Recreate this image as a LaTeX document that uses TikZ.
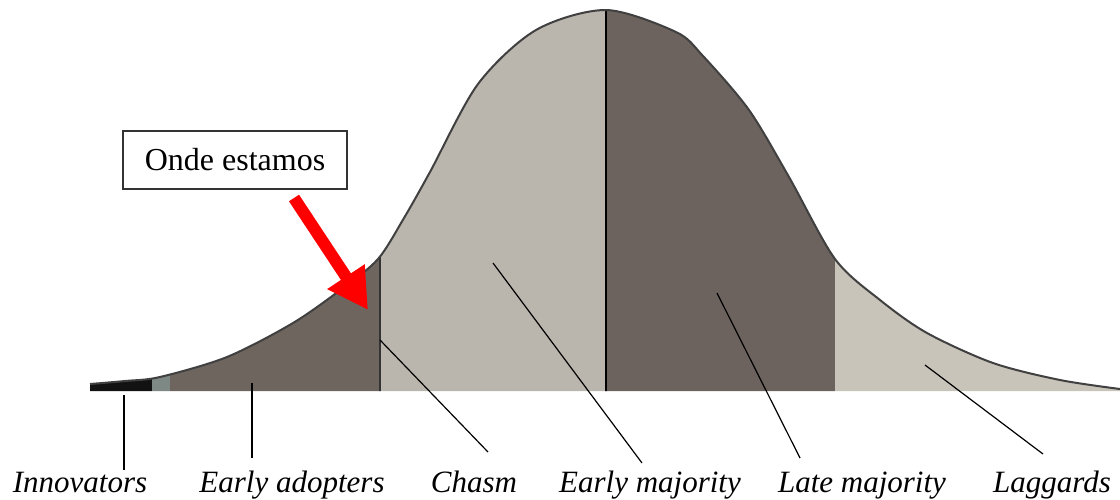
\documentclass[tikz,border=0pt]{standalone}
\usepackage{fontspec}
\setmainfont{Liberation Serif}
\newfontfamily\timesfont{Liberation Serif}
\usepackage{xcolor}
\usetikzlibrary{arrows.meta}
\definecolor{innovcol}{HTML}{121212}
\definecolor{edgecol}{HTML}{7E8884}
\definecolor{adoptcol}{HTML}{6E655F}
\definecolor{earlycol}{HTML}{BAB5AD}
\definecolor{latecol}{HTML}{6C625E}
\definecolor{laggcol}{HTML}{C9C4BA}
\tikzset{
  seglabel/.style={anchor=base, inner sep=0pt, font=\timesfont\fontsize{15.5}{18}\selectfont\itshape},
  leader/.style={draw=black, line width=0.6pt},
  outline/.style={draw=black!75, line width=1pt},
  notebox/.style={draw=black!80, line width=0.7pt, fill=white, inner sep=0pt,
    minimum width=112pt, minimum height=29pt, font=\timesfont\fontsize{16}{19}\selectfont},
  redarrow/.style={draw=red, line width=6pt, -{Triangle[length=20pt,width=21pt]}}
}

\begin{document}
\begin{tikzpicture}[x=0.5pt,y=-0.5pt]
\useasboundingbox (0,0) rectangle (1120,499);
\begin{scope}
\clip (90,391) -- plot[smooth,tension=0.5] coordinates {(90,384) (125,381) (160,377) (227,357) (293,323) (343,288) (378,259) (404,218) (430,172) (478,84) (536,30) (606,10) (676,32) (703,56) (749,110) (789,177) (835,259) (880,300) (927,333) (993,363) (1060,380) (1120,389)} -- (1120,391) -- cycle;
\fill[innovcol] (88,0) rectangle (152,392);
\fill[edgecol] (152,0) rectangle (170,392);
\fill[adoptcol] (170,0) rectangle (380,392);
\fill[earlycol] (380,0) rectangle (606,392);
\fill[latecol] (606,0) rectangle (835,392);
\fill[laggcol] (835,0) rectangle (1121,392);
\draw[black!80, line width=1pt] (380,0) -- (380,392);
\draw[black, line width=1.2pt] (606,0) -- (606,392);
\end{scope}
\draw[outline] plot[smooth,tension=0.5] coordinates {(90,384) (125,381) (160,377) (227,357) (293,323) (343,288) (378,259) (404,218) (430,172) (478,84) (536,30) (606,10) (676,32) (703,56) (749,110) (789,177) (835,259) (880,300) (927,333) (993,363) (1060,380) (1120,389)};

\node[notebox] (where) at (235,160) {Onde estamos};
\coordinate (arrowtail) at (294,198);
\coordinate (arrowtip) at (368,310);
\draw[redarrow] (arrowtail) -- (arrowtip);

\node[seglabel] (innov) at (80,492) {Innovators};
\node[seglabel] (adopt) at (292,492) {Early adopters};
\node[seglabel] (chasm) at (474,492) {Chasm};
\node[seglabel] (earlymaj) at (650,492) {Early majority};
\node[seglabel] (latemaj) at (862,492) {Late majority};
\node[seglabel] (lagg) at (1052,492) {Laggards};

\coordinate (innovtop) at (124,395);
\coordinate (innovend) at (124,470);
\coordinate (adopttop) at (252,383);
\coordinate (adoptend) at (252,458);
\coordinate (chasmtop) at (380,340);
\coordinate (chasmend) at (488,452);
\coordinate (earlytop) at (493,263);
\coordinate (earlyend) at (642,463);
\coordinate (latetop) at (717,293);
\coordinate (lateend) at (800,458);
\coordinate (laggtop) at (925,365);
\coordinate (laggend) at (1043,454);
\draw[leader] (innovtop) -- (innovend);
\draw[leader] (adopttop) -- (adoptend);
\draw[leader] (chasmtop) -- (chasmend);
\draw[leader] (earlytop) -- (earlyend);
\draw[leader] (latetop) -- (lateend);
\draw[leader] (laggtop) -- (laggend);
\end{tikzpicture}
\end{document}
